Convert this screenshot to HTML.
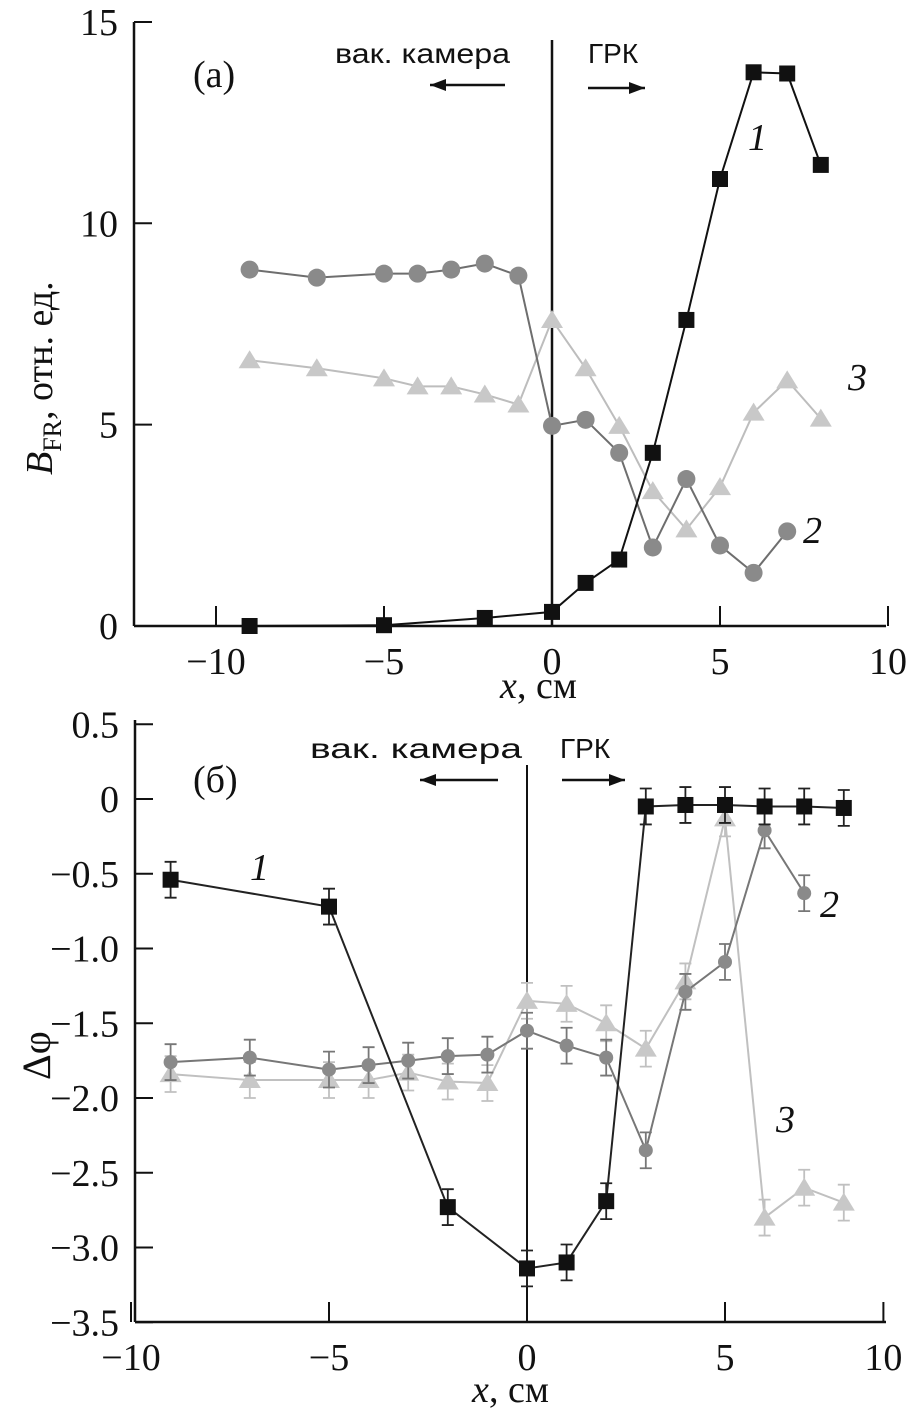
<!DOCTYPE html>
<html><head><meta charset="utf-8"><style>
body{margin:0;background:#fff}
svg{display:block}
text{font-family:"Liberation Serif",serif;fill:#111}
.sans{font-family:"Liberation Sans",sans-serif}
</style></head><body>
<svg id="c" width="908" height="1410"></svg>
<script>
const NS="http://www.w3.org/2000/svg";
// Top chart (a)
const aX1=[-9,-5,-2,0,1,2,3,4,5,6,7,8];
const aY1=[0,0.02,0.2,0.35,1.07,1.65,4.3,7.6,11.1,13.75,13.72,11.45];
const aX2=[-9,-7,-5,-4,-3,-2,-1,0,1,2,3,4,5,6,7];
const aY2=[8.85,8.65,8.75,8.75,8.85,9.0,8.7,4.97,5.12,4.3,1.95,3.65,2.0,1.32,2.35];
const aX3=[-9,-7,-5,-4,-3,-2,-1,0,1,2,3,4,5,6,7,8];
const aY3=[6.6,6.4,6.15,5.95,5.95,5.75,5.5,7.6,6.4,4.97,3.35,2.4,3.45,5.3,6.1,5.15];
const aXT=[-10,-5,0,5,10], aXTL=["−10","−5","0","5","10"];
const aYT=[0,5,10,15], aYTL=["0","5","10","15"];
// Bottom chart (b)
const bX1=[-9,-5,-2,0,1,2,3,4,5,6,7,8];
const bY1=[-0.54,-0.72,-2.73,-3.14,-3.1,-2.69,-0.05,-0.04,-0.04,-0.05,-0.05,-0.06];
const bX2=[-9,-7,-5,-4,-3,-2,-1,0,1,2,3,4,5,6,7];
const bY2=[-1.76,-1.73,-1.81,-1.78,-1.75,-1.72,-1.71,-1.55,-1.65,-1.73,-2.35,-1.29,-1.09,-0.21,-0.63];
const bX3=[-9,-7,-5,-4,-3,-2,-1,0,1,2,3,4,5,6,7,8];
const bY3=[-1.84,-1.88,-1.88,-1.88,-1.83,-1.89,-1.9,-1.35,-1.37,-1.5,-1.67,-1.22,-0.13,-2.8,-2.6,-2.7];
const bErr=0.12;
const bXT=[-10,-5,0,5,9], bXTL=["−10","−5","0","5","10"];
const bYT=[0.5,0,-0.5,-1,-1.5,-2,-2.5,-3,-3.5], bYTL=["0.5","0","−0.5","−1.0","−1.5","−2.0","−2.5","−3.0","−3.5"];

const svg=document.getElementById('c');
function el(t,a,p){const e=document.createElementNS(NS,t);for(const k in a)e.setAttribute(k,a[k]);(p||svg).appendChild(e);return e;}
function txt(s,x,y,a){const e=el('text',Object.assign({x:x,y:y},a||{}));e.textContent=s;return e;}

const ax=v=>552+33.6*v, ay=v=>626-40.27*v;
const bx=v=>527+39.6*v, by=v=>799-149.5*v;
const FS=38;

function axes(xs,ys,x0,y0,x1,y1,xt,xtl,yt,ytl,name){
  const g=el('g',{});
  
  
  el('line',{x1:x0,y1:y0,x2:x0,y2:y1,stroke:'#111','stroke-width':2.5},g);
  el('line',{x1:x0,y1:y1,x2:x1,y2:y1,stroke:'#111','stroke-width':2.5},g);
  xt.forEach((v,i)=>{const X=xs(v);el('line',{x1:X,y1:y1,x2:X,y2:y1-20,stroke:'#111','stroke-width':2},g);
    const t=txt(xtl[i],X,y1+48,{'text-anchor':'middle','font-size':FS});g.appendChild(t);});
  yt.forEach((v,i)=>{const Y=ys(v);el('line',{x1:x0,y1:Y,x2:x0+18,y2:Y,stroke:'#111','stroke-width':2},g);
    const t=txt(ytl[i],x0-16,Y+13,{'text-anchor':'end','font-size':FS});g.appendChild(t);});
}
function series(xs,ys,X,Y,mark,col,lcol,name,err){
  const g=el('g',{});
  
  
  el('polyline',{points:X.map((v,i)=>xs(v)+','+ys(Y[i])).join(' '),fill:'none',stroke:lcol,'stroke-width':2},g);
  X.forEach((v,i)=>{const cx=xs(v),cy=ys(Y[i]);
    if(err){const t=ys(Y[i]+err),b=ys(Y[i]-err);
      el('path',{d:`M${cx},${t}V${b}M${cx-6},${t}H${cx+6}M${cx-6},${b}H${cx+6}`,stroke:lcol,'stroke-width':1.8,fill:'none'},g);}
    let m;
    if(mark==='sq')m=el('rect',{x:cx-8,y:cy-8,width:16,height:16,fill:col},g);
    else if(mark==='ci')m=el('circle',{cx:cx,cy:cy,r:err?7:9,fill:col},g);
    else m=el('polygon',{points:`${cx},${cy-10} ${cx-11},${cy+8} ${cx+11},${cy+8}`,fill:col},g);
    
    
  });
}
function arrow(x1,x2,y){el('line',{x1:x1,y1:y,x2:x2,y2:y,stroke:'#111','stroke-width':2.5});
  const d=x2>x1?1:-1;el('polygon',{points:`${x2},${y} ${x2-d*16},${y-6} ${x2-d*16},${y+6}`,fill:'#111'});}

// Top
axes(ax,ay,134,22,886,626,aXT,aXTL,aYT,aYTL,'top-chart');
el('line',{x1:552,y1:40,x2:552,y2:626,stroke:'#111','stroke-width':2.5});
series(ax,ay,aX3,aY3,'tr','#c8c8c8','#bdbdbd','series-3-top');
series(ax,ay,aX2,aY2,'ci','#8a8a8a','#6e6e6e','series-2-top');
series(ax,ay,aX1,aY1,'sq','#111','#111','series-1-top');
txt('x',500,698,{'font-size':FS,'font-style':'italic'});txt(', см',517,698,{'font-size':FS});
const yt1=txt('',0,0,{'font-size':FS,transform:'translate(52,475) rotate(-90)'});
yt1.innerHTML='<tspan font-style="italic">B</tspan><tspan font-size="26" dy="9">FR</tspan><tspan dy="-9">, отн. ед.</tspan>';
txt('(a)',193,87,{'font-size':FS});
txt('вак. камера',335,63,{'font-size':28,class:'sans',textLength:175,lengthAdjust:'spacingAndGlyphs'});
txt('ГРК',588,63,{'font-size':28,class:'sans'});
arrow(505,430,85);arrow(588,645,88);
txt('1',748,150,{'font-size':FS,'font-style':'italic'});
txt('3',848,390,{'font-size':FS,'font-style':'italic'});
txt('2',803,543,{'font-size':FS,'font-style':'italic'});

// Bottom
axes(bx,by,135,720,886,1322,bXT,bXTL,bYT,bYTL,'bottom-chart');
el('line',{x1:527,y1:765,x2:527,y2:1322,stroke:'#111','stroke-width':2});
series(bx,by,bX3,bY3,'tr','#c8c8c8','#c0c0c0','series-3-bottom',bErr);
series(bx,by,bX2,bY2,'ci','#8a8a8a','#777','series-2-bottom',bErr);
series(bx,by,bX1,bY1,'sq','#111','#222','series-1-bottom',bErr);
txt('x',472,1402,{'font-size':FS,'font-style':'italic'});txt(', см',489,1402,{'font-size':FS});
txt('Δφ',0,0,{'font-size':40,transform:'translate(50,1080) rotate(-90)'});
txt('(б)',193,792,{'font-size':FS});
txt('вак. камера',310,758,{'font-size':28,class:'sans',textLength:212,lengthAdjust:'spacingAndGlyphs'});
txt('ГРК',560,758,{'font-size':28,class:'sans'});
arrow(498,420,780);arrow(562,625,780);
txt('1',250,880,{'font-size':FS,'font-style':'italic'});
txt('2',820,917,{'font-size':FS,'font-style':'italic'});
txt('3',776,1132,{'font-size':FS,'font-style':'italic'});
</script>
</body></html>
